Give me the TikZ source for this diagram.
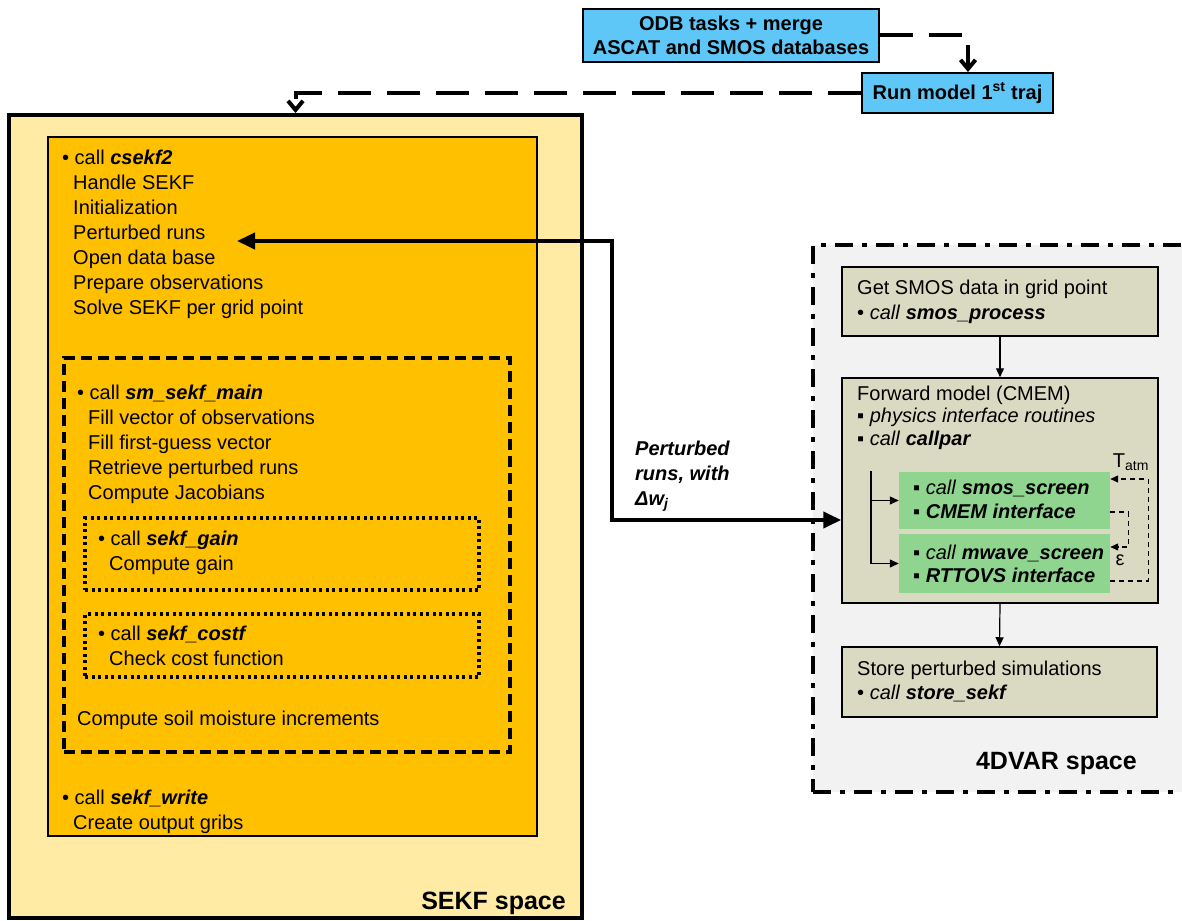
\documentclass[tikz,border=0pt]{standalone}
\usepackage{fontspec}
\setmainfont{Liberation Sans}
\usepackage{xcolor}
\usepackage{tikz}
\usetikzlibrary{arrows.meta}
\definecolor{sekfyellow}{RGB}{255,235,163}
\definecolor{sekforange}{RGB}{255,192,0}
\definecolor{odbblue}{RGB}{95,199,247}
\definecolor{dvargrey}{RGB}{242,242,242}
\definecolor{olivegrey}{RGB}{218,218,194}
\definecolor{cmemgreen}{RGB}{143,212,143}
\newcommand{\bfit}[1]{\textbf{\textit{#1}}}
\newcommand{\lind}{\hspace*{11pt}}

\begin{document}
\begin{tikzpicture}[x=1pt, y=-1pt,
  spacebox/.style={draw, line width=4pt, inner sep=0pt},
  routbox/.style={draw, line width=1.2pt, fill=sekforange, inner sep=0pt},
  dashbox/.style={draw, line width=3.5pt, dash pattern=on 11pt off 6pt, inner sep=0pt},
  dotbox/.style={draw, line width=3.5pt, dash pattern=on 3pt off 3.5pt, inner sep=0pt},
  olivebox/.style={draw, line width=1.5pt, fill=olivegrey, inner sep=0pt},
  greenbox/.style={fill=cmemgreen, inner sep=0pt},
  bluebox/.style={draw, line width=2pt, fill=odbblue, inner sep=0pt, align=center, font=\bfseries\fontsize{20}{24}\selectfont},
  txt/.style={anchor=north west, align=left, inner sep=0pt, font=\fontsize{20}{25}\selectfont},
  spacelabel/.style={anchor=east, inner sep=0pt, font=\bfseries\fontsize{25}{30}\selectfont},
  taskarrow/.style={line width=4pt, dash pattern=on 33pt off 16pt, -{Straight Barb[length=9pt,width=15pt]}},
  thinarrow/.style={line width=1.2pt, -{Triangle[length=9pt,width=8pt]}},
  looparrow/.style={line width=1.2pt, dash pattern=on 5pt off 4pt, -{Triangle[length=8pt,width=7pt]}},
  bigarrow/.style={line width=4pt, {Triangle[length=18pt,width=16pt]}-{Triangle[length=18pt,width=16pt]}}]
\useasboundingbox (0,0) rectangle (1182,920);

% SEKF space
\node[spacebox, fill=sekfyellow, minimum width=573pt, minimum height=803pt] (sekf) at (295.5,516.5) {};
\node[routbox, minimum width=489pt, minimum height=699pt] (rout) at (292.5,486.5) {};
\node[dashbox, minimum width=446pt, minimum height=394pt] (mainloop) at (287,555) {};
\node[dotbox, minimum width=394pt, minimum height=72pt] (gain) at (282,554) {};
\node[dotbox, minimum width=394pt, minimum height=63pt] (costf) at (282,645.5) {};

\node[txt] (tcsekf) at (62,149.6) {• call \bfit{csekf2}\\ \lind Handle SEKF\\ \lind Initialization\\ \lind Perturbed runs\\ \lind Open data base\\ \lind Prepare observations\\ \lind Solve SEKF per grid point};
\node[txt] (tmain) at (77,384.6) {• call \bfit{sm\_sekf\_main}\\ \lind Fill vector of observations\\ \lind Fill first-guess vector\\ \lind Retrieve perturbed runs\\ \lind Compute Jacobians};
\node[txt] (tgain) at (98,530.6) {• call \bfit{sekf\_gain}\\ \lind Compute gain};
\node[txt] (tcostf) at (98,625.6) {• call \bfit{sekf\_costf}\\ \lind Check cost function};
\node[txt] (tsoil) at (77,710.6) {Compute soil moisture increments};
\node[txt] (twrite) at (62,789.6) {• call \bfit{sekf\_write}\\ \lind Create output gribs};
\node[spacelabel] (tsekfsp) at (566,903) {SEKF space};

% 4DVAR space
\node[spacebox, fill=dvargrey, dash pattern=on 18pt off 9pt on 5pt off 9pt, minimum width=382pt, minimum height=547pt] (dvar) at (1004,518.5) {};
\node[olivebox, minimum width=316pt, minimum height=69pt] (getsmos) at (1000,301.5) {};
\node[olivebox, minimum width=316pt, minimum height=225pt] (fwd) at (1000,490.5) {};
\node[olivebox, minimum width=315pt, minimum height=70pt] (store) at (999.5,682) {};
\node[greenbox, minimum width=211pt, minimum height=57pt] (scrsmos) at (1004.5,500.5) {};
\node[greenbox, minimum width=211pt, minimum height=59pt] (scrmwave) at (1004.5,563.5) {};

\node[txt] (tget) at (857,279.6) {Get SMOS data in grid point\\ • \textit{call} \bfit{smos\_process}};
\node[txt, font=\fontsize{20}{22.5}\selectfont] (tfwd) at (857,385.6) {Forward model (CMEM)\\ ▪ \textit{physics interface routines}\\ ▪ \textit{call} \bfit{callpar}};
\node[txt, font=\fontsize{20}{24}\selectfont] (tscr1) at (913,479.6) {▪ \textit{call} \bfit{smos\_screen}\\ ▪ \bfit{CMEM interface}};
\node[txt, font=\fontsize{20}{23}\selectfont] (tscr2) at (913,544.6) {▪ \textit{call} \bfit{mwave\_screen}\\ ▪ \bfit{RTTOVS interface}};
\node[txt, font=\fontsize{20}{24}\selectfont] (tstore) at (857,660.6) {Store perturbed simulations\\ • \textit{call} \bfit{store\_sekf}};
\node[spacelabel] (tdvarsp) at (1137,763) {4DVAR space};
\node[inner sep=0pt, font=\fontsize{20}{24}\selectfont] (ttatm) at (1131,462) {T\textsubscript{atm}};
\node[inner sep=0pt, font=\fontsize{20}{24}\selectfont] (teps) at (1120,560) {ε};

% ODB tasks
\node[bluebox, minimum width=296pt, minimum height=53pt] (odb) at (731,35.5) {ODB tasks + merge\\ ASCAT and SMOS databases};
\node[bluebox, minimum width=191pt, minimum height=40pt] (run) at (957.5,93) {Run model 1\textsuperscript{st} traj};

% connectors
\draw[taskarrow] (odb.east) -| ([xshift=10.5pt]run.north);
\draw[taskarrow] (run.west) -| (sekf.north);
\coordinate (prun) at (237,241);
\coordinate (bend) at (612,241);
\draw[bigarrow] (prun) -- (bend) |- ([yshift=-29.5pt]fwd.west);
\node[txt, font=\bfseries\itshape\fontsize{20}{25}\selectfont] (tlabel) at (635,440.6) {Perturbed\\ runs, with\\ Δw\textsubscript{j}};
\draw[thinarrow] (getsmos.south) -- (fwd.north);
\draw[thinarrow] (fwd.south) -- (store.north);
\coordinate (treetop) at (871,471);
\draw[thinarrow] (treetop) |- (scrmwave.west);
\draw[thinarrow] (treetop |- scrsmos.west) -- (scrsmos.west);
\draw[looparrow] ([yshift=-17.5pt]scrmwave.east) -- ++(38,0) |- ([yshift=21.5pt]scrsmos.east);
\draw[looparrow] ([yshift=-11.5pt]scrsmos.east) -- ++(18,0) |- ([yshift=16.5pt]scrmwave.east);
\end{tikzpicture}
\end{document}
